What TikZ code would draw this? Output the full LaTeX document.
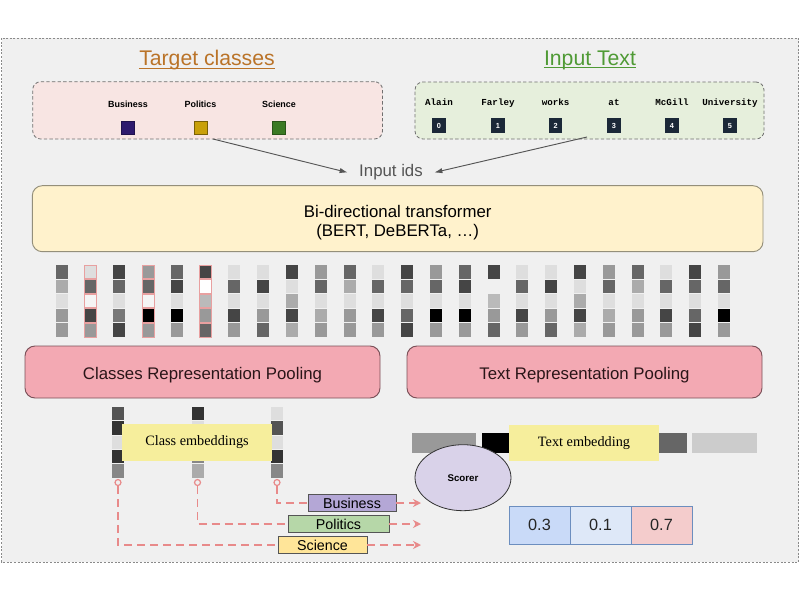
\documentclass[tikz,border=0pt]{standalone}
\usepackage{fontspec}
\setmainfont{Liberation Sans}
\newfontfamily\codefont{Liberation Mono}
\newfontfamily\romanfont{Liberation Serif}
\usetikzlibrary{arrows.meta,shapes.geometric,fit}

\definecolor{panelbg}{HTML}{F0F0F0}
\definecolor{panelrule}{HTML}{8A8A8A}
\definecolor{boxrule}{HTML}{707070}
\definecolor{pinkbg}{HTML}{F8E5E3}
\definecolor{greenbg}{HTML}{E6EFDC}
\definecolor{titleorange}{HTML}{BA7328}
\definecolor{titlegreen}{HTML}{4F9A35}
\definecolor{busq}{HTML}{2E1A6E}
\definecolor{polq}{HTML}{C9A00A}
\definecolor{sciq}{HTML}{3B7A24}
\definecolor{idfill}{HTML}{1B2838}
\definecolor{inkgray}{HTML}{555555}
\definecolor{encfill}{HTML}{FFF2CC}
\definecolor{encrule}{HTML}{948F7A}
\definecolor{poolfill}{HTML}{F3A9B3}
\definecolor{poolrule}{HTML}{7A5058}
\definecolor{pooltextc}{HTML}{2A1518}
\definecolor{cellred}{HTML}{E8A0A0}
\definecolor{labelyellow}{HTML}{F6EE9C}
\definecolor{busfill}{HTML}{B4A7D6}
\definecolor{polfill}{HTML}{B6D7A8}
\definecolor{scifill}{HTML}{FFE599}
\definecolor{tagrule}{HTML}{555555}
\definecolor{linkpink}{HTML}{E88A8A}
\definecolor{scorerfill}{HTML}{D9D2E9}
\definecolor{scoreA}{HTML}{C9DAF8}
\definecolor{scoreB}{HTML}{DEE8F8}
\definecolor{scoreC}{HTML}{F4CCCC}
\definecolor{scorerule}{HTML}{6C8EBF}

\tikzset{
  titletext/.style={font=\fontsize{15.9}{19}\selectfont, inner sep=0pt, anchor=base},
  dashbox/.style={draw=boxrule, dash pattern=on 2.5pt off 1.7pt, line width=0.6pt,
    rounded corners=6pt, inner sep=0pt},
  classlbl/.style={font=\bfseries\fontsize{6.7}{8}\selectfont, inner sep=0pt, anchor=base},
  classsq/.style={minimum size=9.75pt, inner sep=0pt, line width=0.5pt},
  wordlbl/.style={font=\codefont\bfseries\fontsize{6.9}{8}\selectfont, inner sep=0pt, anchor=base},
  idbox/.style={fill=idfill, minimum width=10pt, minimum height=11pt, inner sep=0pt,
    text=white, font=\bfseries\fontsize{5.5}{6}\selectfont},
  feed/.style={draw=inkgray, line width=0.7pt, -{Latex[length=6pt,width=4pt]}},
  bigtext/.style={font=\fontsize{12.6}{15}\selectfont},
  encbox/.style={draw=encrule, fill=encfill, line width=0.7pt, rounded corners=7.5pt, inner sep=0pt},
  poolbox/.style={draw=poolrule, fill=poolfill, line width=0.7pt, rounded corners=7.5pt, inner sep=0pt},
  embedlabel/.style={fill=labelyellow, inner sep=0pt, font=\romanfont\fontsize{10.7}{13}\selectfont},
  tagbox/.style={draw=tagrule, line width=0.6pt, inner sep=0pt, minimum height=13.3pt,
    font=\fontsize{10.7}{13}\selectfont},
  pinklink/.style={draw=linkpink, line width=1.05pt, dash pattern=on 6pt off 3.75pt},
  pinkarrow/.style={pinklink, -{Stealth[length=6pt,width=6pt]}},
  stub/.style={circle, draw=linkpink, line width=0.9pt, minimum size=4.5pt, inner sep=0pt},
  scorecell/.style={draw=scorerule, line width=0.7pt, minimum width=45.75pt, minimum height=28.5pt,
    inner sep=0pt, font=\fontsize{12.2}{14}\selectfont, text=black!85},
}

\begin{document}
\begin{tikzpicture}[x=0.75pt,y=-0.75pt]
\useasboundingbox (0,0) rectangle (800,600);
\fill[white] (0,0) rectangle (800,600);

% outer panel
\draw[draw=panelrule, fill=panelbg, line width=0.7pt, dash pattern=on 1.5pt off 1.2pt]
  (1.5,38) rectangle (798.5,562);

% ---- titles ----
\node[titletext, text=titleorange] (ttlcls) at (207,65) {Target classes};
\draw[titleorange, line width=0.8pt]
  ([yshift=-2.6pt]ttlcls.base west) -- ([yshift=-2.6pt]ttlcls.base east);
\node[titletext, text=titlegreen] (ttltxt) at (590,65) {Input Text};
\draw[titlegreen, line width=0.8pt]
  ([yshift=-1.6pt]ttltxt.base west) -- ([yshift=-1.6pt]ttltxt.base east);

% ---- target classes box ----
\node[dashbox, fill=pinkbg, fit={(32.7,81.7)(382.5,139)}] (clsbox) {};
\node[classlbl] (lbus) at (128,107) {Business};
\node[classlbl] (lpol) at (200.5,107) {Politics};
\node[classlbl] (lsci) at (279,107) {Science};
\node[classsq, fill=busq, draw=busq!70!black] (qbus) at (128,127.7) {};
\node[classsq, fill=polq, draw=polq!60!black] (qpol) at (200.5,127.7) {};
\node[classsq, fill=sciq, draw=sciq!70!black] (qsci) at (279,127.7) {};

% ---- input text box ----
\node[dashbox, fill=greenbg, fit={(415,82)(764,139)}] (txtbox) {};
\foreach \w/\n/\x in {Alain/0/439, Farley/1/498, works/2/555.7, at/3/614, McGill/4/672, University/5/730}{
  \node[wordlbl] (w\n) at (\x,105) {\w};
  \node[idbox] (id\n) at (\x,125.7) {\n};
}

% ---- input ids ----
\node[bigtext, text=inkgray, inner xsep=8.5pt, inner ysep=1pt] (ids) at (391,172.5) {Input ids};
\coordinate (fromcls) at (213,139);
\coordinate (fromtxt) at (587,137);
\draw[feed] (fromcls) -- (ids.west);
\draw[feed] (fromtxt) -- (ids.east);

% ---- encoder ----
\node[encbox, fit={(32.3,185.7)(763,251.7)}] (enc) {};
\node[bigtext, align=center, inner sep=0pt] (enclbl) at ([yshift=-2.9pt]enc.center)
  {Bi-directional transformer\\[-0.5pt](BERT, DeBERTa, …)};

% ---- token representations (24 columns of 5 cells) ----
\foreach \c/\edge/\vals in {
  1/none/{60,33,13,40,40},
  2/cellred/{13,60,4,73,40},
  3/none/{73,60,13,53,73},
  4/cellred/{40,60,4,100,40},
  5/none/{60,73,13,100,40},
  6/cellred/{73,0,27,40,60},
  7/none/{13,60,13,73,40},
  8/none/{13,73,13,40,60},
  9/none/{73,13,33,73,33},
  10/none/{40,60,13,33,40},
  11/none/{60,33,13,40,40},
  12/none/{13,60,13,73,40},
  13/none/{73,60,13,60,73},
  14/none/{40,60,13,100,40},
  15/none/{60,73,13,100,40},
  16/none/{73,-1,27,40,60},
  17/none/{13,60,13,73,40},
  18/none/{13,73,13,40,60},
  19/none/{73,13,33,73,33},
  20/none/{40,60,13,33,40},
  21/none/{60,33,13,40,40},
  22/none/{13,60,13,73,40},
  23/none/{73,60,13,60,73},
  24/none/{40,60,13,100,40}}{
  \foreach \g [count=\r from 0] in \vals {
    \ifnum\g<0\relax\else
      \filldraw[fill=black!\g, draw=\edge, line width=0.6pt]
        ({61.5+(\c-1)*28.8-6},{265+\r*14.6}) rectangle ++(12,13.5);
    \fi
  }
}

% ---- pooling ----
\node[poolbox, fit={(25,346)(380,398)}] (clspool) {};
\node[bigtext, text=pooltextc, inner sep=0pt] (clspoollbl) at ([yshift=-2pt]clspool.center) {Classes Representation Pooling};
\node[poolbox, fit={(407,346)(762,398)}] (txtpool) {};
\node[bigtext, text=pooltextc, inner sep=0pt] (txtpoollbl) at ([yshift=-2pt]txtpool.center) {Text Representation Pooling};

% ---- class embeddings ----
\foreach \cx/\vals in {118/{67,80,13,80,47}, 197.5/{80,13,13,47,33}, 277/{13,67,13,80,47}}{
  \foreach \g [count=\r from 0] in \vals {
    \fill[black!\g] ({\cx-6},{406.7+\r*14.4}) rectangle ++(12,13.5);
  }
}
\node[embedlabel, minimum width=112.5pt, minimum height=27.7pt] (clsemb) at (197,442.5) {Class embeddings};

\node[stub] (stA) at (118,482.5) {};
\node[stub] (stB) at (197.5,482.5) {};
\node[stub] (stC) at (277,482.5) {};

\node[tagbox, fill=busfill, minimum width=66pt] (tbus) at (352,503) {Business};
\node[tagbox, fill=polfill, minimum width=75.75pt] (tpol) at (338.5,524) {Politics};
\node[tagbox, fill=scifill, minimum width=66.75pt] (tsci) at (322.5,545) {Science};

\coordinate (endbus) at (421,503);
\coordinate (endpol) at (421,524);
\coordinate (endsci) at (421,545);

\draw[pinklink] (stC) |- (tbus.west);
\draw[pinklink] (stB) |- (tpol.west);
\draw[pinklink] (stA) |- (tsci.west);
\draw[pinkarrow] (tbus.east) -- (endbus);
\draw[pinkarrow] (tpol.east) -- (endpol);
\draw[pinkarrow] (tsci.east) -- (endsci);

% ---- text embedding ----
\fill[black!40] (411.7,433) rectangle (476,453);
\fill[black] (481.7,433) rectangle (512,453);
\fill[black!60] (656,433) rectangle (686.7,453);
\fill[black!20] (691.7,433) rectangle (756.7,453);
\node[embedlabel, minimum width=112.5pt, minimum height=27pt] (txtemb) at (584,443) {Text embedding};

% ---- scorer ----
\node[ellipse, draw=black!80, fill=scorerfill, line width=0.6pt, minimum width=72pt,
  minimum height=49.5pt, inner sep=0pt, font=\bfseries\fontsize{7.3}{9}\selectfont] (scorer) at (463,477.7) {Scorer};

% ---- scores ----
\node[scorecell, fill=scoreA] (s1) at (539.5,525) {0.3};
\node[scorecell, fill=scoreB] (s2) at (600.5,525) {0.1};
\node[scorecell, fill=scoreC] (s3) at (661.5,525) {0.7};
\end{tikzpicture}
\end{document}
